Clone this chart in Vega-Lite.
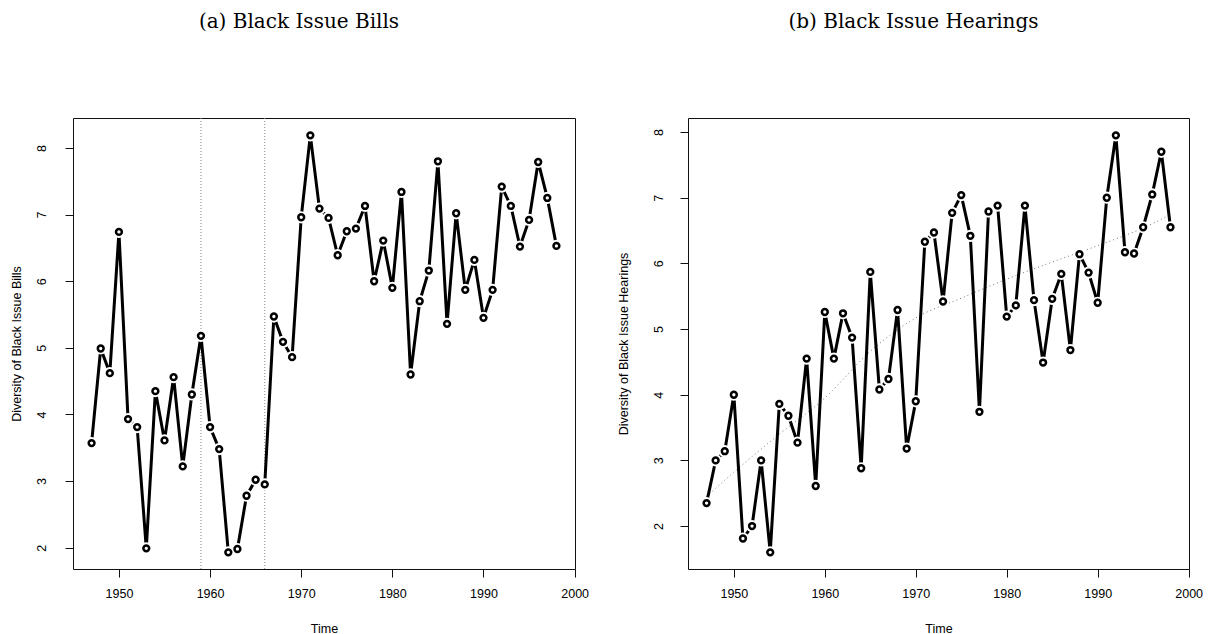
{
  "$schema": "https://vega.github.io/schema/vega-lite/v6.json",
  "padding": {"left": 9, "top": 11, "right": 0, "bottom": 0},
  "autosize": {"type": "pad"},
  "bounds": "flush",
  "background": "white",
  "datasets": {
    "bills": [
      {"year": 1947, "value": 3.57}, {"year": 1948, "value": 4.99}, {"year": 1949, "value": 4.62}, {"year": 1950, "value": 6.74},
      {"year": 1951, "value": 3.93}, {"year": 1952, "value": 3.81}, {"year": 1953, "value": 1.99}, {"year": 1954, "value": 4.35},
      {"year": 1955, "value": 3.61}, {"year": 1956, "value": 4.56}, {"year": 1957, "value": 3.22}, {"year": 1958, "value": 4.30},
      {"year": 1959, "value": 5.18}, {"year": 1960, "value": 3.81}, {"year": 1961, "value": 3.48}, {"year": 1962, "value": 1.93},
      {"year": 1963, "value": 1.98}, {"year": 1964, "value": 2.78}, {"year": 1965, "value": 3.02}, {"year": 1966, "value": 2.95},
      {"year": 1967, "value": 5.47}, {"year": 1968, "value": 5.09}, {"year": 1969, "value": 4.86}, {"year": 1970, "value": 6.96},
      {"year": 1971, "value": 8.19}, {"year": 1972, "value": 7.09}, {"year": 1973, "value": 6.95}, {"year": 1974, "value": 6.39},
      {"year": 1975, "value": 6.75}, {"year": 1976, "value": 6.79}, {"year": 1977, "value": 7.13}, {"year": 1978, "value": 6.00},
      {"year": 1979, "value": 6.61}, {"year": 1980, "value": 5.90}, {"year": 1981, "value": 7.34}, {"year": 1982, "value": 4.60},
      {"year": 1983, "value": 5.70}, {"year": 1984, "value": 6.16}, {"year": 1985, "value": 7.80}, {"year": 1986, "value": 5.36},
      {"year": 1987, "value": 7.02}, {"year": 1988, "value": 5.87}, {"year": 1989, "value": 6.32}, {"year": 1990, "value": 5.45},
      {"year": 1991, "value": 5.87}, {"year": 1992, "value": 7.42}, {"year": 1993, "value": 7.13}, {"year": 1994, "value": 6.52},
      {"year": 1995, "value": 6.92}, {"year": 1996, "value": 7.79}, {"year": 1997, "value": 7.25}, {"year": 1998, "value": 6.53}
    ],
    "hearings": [
      {"year": 1947, "value": 2.35}, {"year": 1948, "value": 3.00}, {"year": 1949, "value": 3.14}, {"year": 1950, "value": 4.00},
      {"year": 1951, "value": 1.81}, {"year": 1952, "value": 2.00}, {"year": 1953, "value": 3.00}, {"year": 1954, "value": 1.60},
      {"year": 1955, "value": 3.86}, {"year": 1956, "value": 3.68}, {"year": 1957, "value": 3.27}, {"year": 1958, "value": 4.55},
      {"year": 1959, "value": 2.61}, {"year": 1960, "value": 5.26}, {"year": 1961, "value": 4.55}, {"year": 1962, "value": 5.24},
      {"year": 1963, "value": 4.87}, {"year": 1964, "value": 2.88}, {"year": 1965, "value": 5.87}, {"year": 1966, "value": 4.08},
      {"year": 1967, "value": 4.24}, {"year": 1968, "value": 5.29}, {"year": 1969, "value": 3.18}, {"year": 1970, "value": 3.90},
      {"year": 1971, "value": 6.33}, {"year": 1972, "value": 6.47}, {"year": 1973, "value": 5.42}, {"year": 1974, "value": 6.77},
      {"year": 1975, "value": 7.04}, {"year": 1976, "value": 6.42}, {"year": 1977, "value": 3.74}, {"year": 1978, "value": 6.79},
      {"year": 1979, "value": 6.88}, {"year": 1980, "value": 5.19}, {"year": 1981, "value": 5.36}, {"year": 1982, "value": 6.88},
      {"year": 1983, "value": 5.44}, {"year": 1984, "value": 4.49}, {"year": 1985, "value": 5.46}, {"year": 1986, "value": 5.84},
      {"year": 1987, "value": 4.68}, {"year": 1988, "value": 6.14}, {"year": 1989, "value": 5.86}, {"year": 1990, "value": 5.40},
      {"year": 1991, "value": 7.00}, {"year": 1992, "value": 7.95}, {"year": 1993, "value": 6.17}, {"year": 1994, "value": 6.15},
      {"year": 1995, "value": 6.55}, {"year": 1996, "value": 7.05}, {"year": 1997, "value": 7.70}, {"year": 1998, "value": 6.55}
    ],
    "trend": [
      {"year": 1947, "value": 2.45}, {"year": 1950, "value": 2.82}, {"year": 1955, "value": 3.40}, {"year": 1960, "value": 3.95},
      {"year": 1965, "value": 4.66}, {"year": 1970, "value": 5.17}, {"year": 1975, "value": 5.47}, {"year": 1980, "value": 5.76},
      {"year": 1985, "value": 6.02}, {"year": 1990, "value": 6.27}, {"year": 1995, "value": 6.54}, {"year": 1998, "value": 6.74}
    ],
    "rules": [{"year": 1959}, {"year": 1966}]
  },
  "config": {
    "view": {"stroke": "#111", "strokeWidth": 1},
    "axis": {
      "grid": false, "domain": false, "tickColor": "#111", "tickSize": 8, "tickWidth": 1,
      "labelFont": "Liberation Sans", "labelFontSize": 12.5, "labelColor": "#000",
      "titleFont": "Liberation Sans", "titleFontSize": 12.5, "titleFontWeight": "normal", "titleColor": "#000"
    },
    "title": {"font": "DejaVu Serif", "fontSize": 20, "fontWeight": "normal", "color": "#000"},
    "concat": {"spacing": 113}
  },
  "hconcat": [
    {
      "width": 502, "height": 451,
      "title": {"text": "(a) Black Issue Bills", "frame": "group", "anchor": "middle", "dx": -25, "offset": 86},
      "encoding": {
        "x": {"field": "year", "type": "quantitative",
              "scale": {"domain": [1944.96, 2000.04], "nice": false, "zero": false},
              "axis": {"values": [1950, 1960, 1970, 1980, 1990, 2000], "format": "d", "title": "Time", "labelPadding": 10, "titlePadding": 23, "labelFlush": false}}
      },
      "layer": [
        {"data": {"name": "rules"}, "mark": {"type": "rule", "color": "#888", "strokeWidth": 1, "strokeDash": [1, 2]}, "encoding": {}},
        {"data": {"name": "bills"}, "mark": {"type": "line", "color": "#000", "strokeWidth": 3},
         "encoding": {"y": {"field": "value", "type": "quantitative",
              "scale": {"domain": [1.68, 8.45], "nice": false, "zero": false},
              "axis": {"values": [2, 3, 4, 5, 6, 7, 8], "format": "d", "title": "Diversity of Black Issue Bills", "labelAngle": -90, "labelPadding": 17, "titlePadding": 12}}}},
        {"data": {"name": "bills"}, "mark": {"type": "point", "shape": "circle", "filled": true, "color": "white", "size": 150, "opacity": 1},
         "encoding": {"y": {"field": "value", "type": "quantitative"}}},
        {"data": {"name": "bills"}, "mark": {"type": "point", "shape": "circle", "filled": false, "color": "#000", "strokeWidth": 2.5, "size": 34, "opacity": 1},
         "encoding": {"y": {"field": "value", "type": "quantitative"}}}
      ]
    },
    {
      "width": 501, "height": 451,
      "title": {"text": "(b) Black Issue Hearings", "frame": "group", "anchor": "middle", "dx": -25, "offset": 86},
      "encoding": {
        "x": {"field": "year", "type": "quantitative",
              "scale": {"domain": [1944.96, 2000.04], "nice": false, "zero": false},
              "axis": {"values": [1950, 1960, 1970, 1980, 1990, 2000], "format": "d", "title": "Time", "labelPadding": 10, "titlePadding": 23, "labelFlush": false}}
      },
      "layer": [
        {"data": {"name": "trend"}, "mark": {"type": "line", "color": "#777", "strokeWidth": 1, "strokeDash": [1, 3], "interpolate": "monotone"},
         "encoding": {"y": {"field": "value", "type": "quantitative"}}},
        {"data": {"name": "hearings"}, "mark": {"type": "line", "color": "#000", "strokeWidth": 3},
         "encoding": {"y": {"field": "value", "type": "quantitative",
              "scale": {"domain": [1.346, 8.214], "nice": false, "zero": false},
              "axis": {"values": [2, 3, 4, 5, 6, 7, 8], "format": "d", "title": "Diversity of Black Issue Hearings", "labelAngle": -90, "labelPadding": 15, "titlePadding": 22}}}},
        {"data": {"name": "hearings"}, "mark": {"type": "point", "shape": "circle", "filled": true, "color": "white", "size": 150, "opacity": 1},
         "encoding": {"y": {"field": "value", "type": "quantitative"}}},
        {"data": {"name": "hearings"}, "mark": {"type": "point", "shape": "circle", "filled": false, "color": "#000", "strokeWidth": 2.5, "size": 34, "opacity": 1},
         "encoding": {"y": {"field": "value", "type": "quantitative"}}}
      ]
    }
  ]
}
